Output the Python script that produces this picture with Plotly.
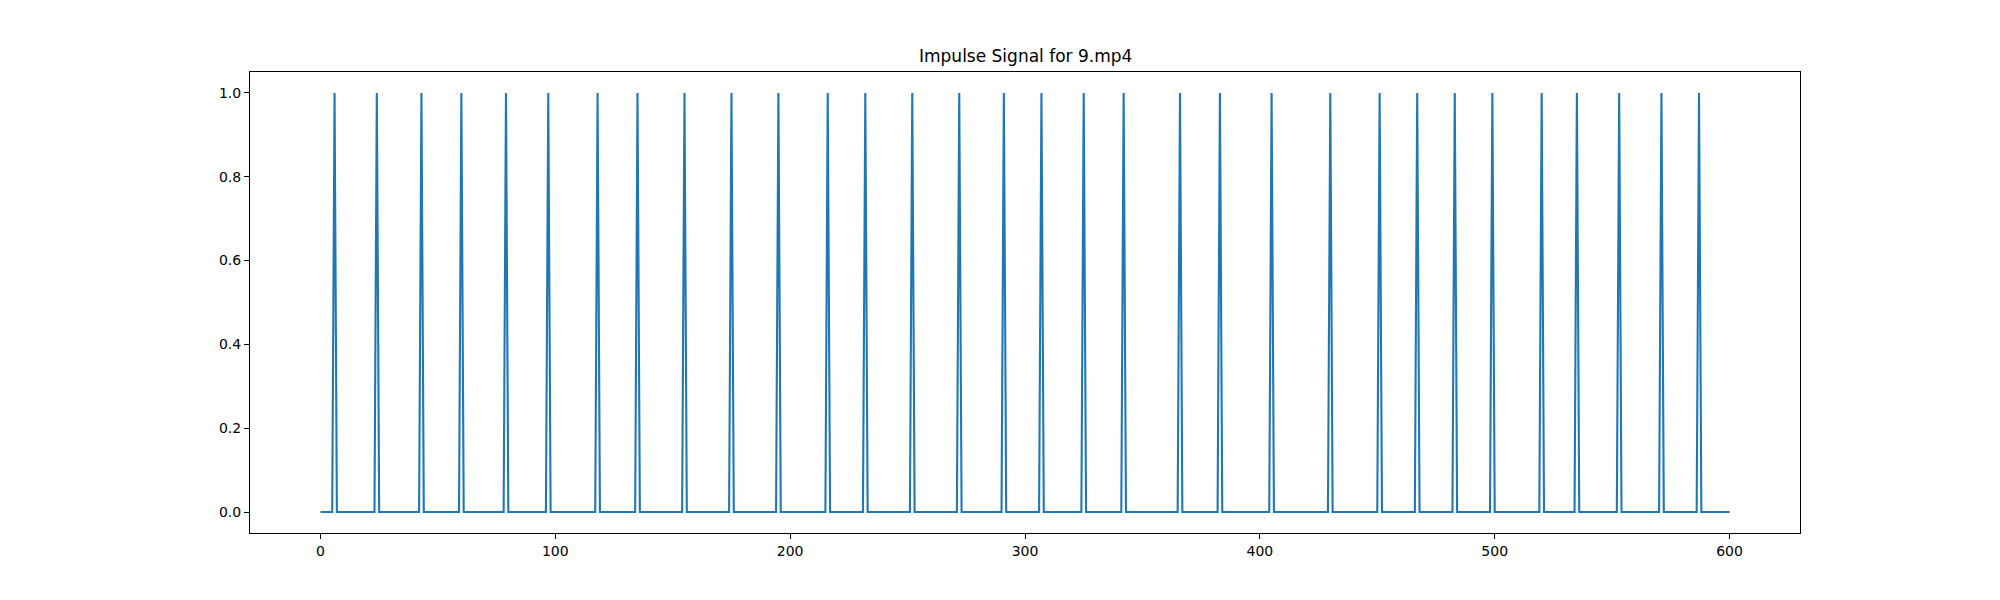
import numpy as np
import plotly.graph_objects as go

# Frame indices where an impulse occurs
impulse_frames = [6, 24, 43, 60, 79, 97, 118, 135, 155, 175, 195, 216, 232, 252,
                  272, 291, 307, 325, 342, 366, 383, 405, 430, 451, 467, 483, 499,
                  520, 535, 553, 571, 587]
n_frames = 601
title_text = "Impulse Signal for 9.mp4"
x_ticks = [0, 100, 200, 300, 400, 500, 600]
y_ticks = [0.0, 0.2, 0.4, 0.6, 0.8, 1.0]

x = np.arange(n_frames)
signal = np.zeros(n_frames)
signal[impulse_frames] = 1.0

fig = go.Figure()
fig.add_trace(go.Scatter(x=x, y=signal, mode="lines",
                         line=dict(color="#1f77b4", width=2.1),
                         showlegend=False, hoverinfo="x+y"))

axis_common = dict(showline=True, mirror=True, linecolor="black", linewidth=1.1,
                   ticks="outside", ticklen=5, tickwidth=1.1, tickcolor="black",
                   showgrid=False, zeroline=False,
                   tickfont=dict(family="DejaVu Sans", size=14, color="black"))

fig.update_layout(
    width=2000, height=600,
    margin=dict(l=242, r=208, t=64, b=75),
    paper_bgcolor="white", plot_bgcolor="white",
    xaxis=dict(range=[-30, 630], tickvals=x_ticks, **axis_common),
    yaxis=dict(range=[-0.05, 1.05], tickvals=y_ticks, tickformat=".1f", **axis_common),
    annotations=[dict(text=title_text, xref="paper", yref="paper", x=0.5, y=1,
                      xanchor="center", yanchor="bottom", yshift=4, showarrow=False,
                      font=dict(family="DejaVu Sans", size=17, color="black"))],
)

fig.write_html("out.html")
